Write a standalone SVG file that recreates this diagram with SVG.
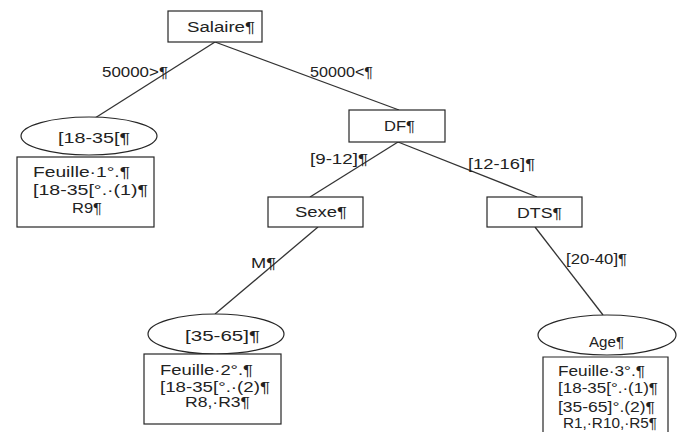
<svg xmlns="http://www.w3.org/2000/svg" width="686" height="441" viewBox="0 0 686 441">
<style>
.s{fill:#fff;stroke:#262626;stroke-width:1.2}
.c line{stroke:#333;stroke-width:1.3}
text{font-family:"Liberation Sans",Arial,sans-serif;font-size:14px;fill:#222}
</style>
<rect width="686" height="441" fill="#fff"/>
<g id="connectors" class="c">
<line x1="215" y1="42" x2="95" y2="118"/>
<line x1="215" y1="42" x2="399" y2="110"/>
<line x1="398" y1="142" x2="310" y2="197"/>
<line x1="398" y1="142" x2="537" y2="197"/>
<line x1="318" y1="227" x2="215" y2="314"/>
<line x1="535" y1="227" x2="603" y2="315"/>
</g>
<g id="edge-labels">
<text x="102" y="77" textLength="66" lengthAdjust="spacingAndGlyphs">50000&gt;¶</text>
<text x="310" y="77" textLength="63" lengthAdjust="spacingAndGlyphs">50000&lt;¶</text>
<text x="310" y="164" textLength="58" lengthAdjust="spacingAndGlyphs">[9-12]¶</text>
<text x="468" y="169" textLength="67" lengthAdjust="spacingAndGlyphs">[12-16]¶</text>
<text x="251" y="268" textLength="25" lengthAdjust="spacingAndGlyphs">M¶</text>
<text x="566" y="264" textLength="61" lengthAdjust="spacingAndGlyphs">[20-40]¶</text>
</g>
<g id="salaire">
<rect class="s" x="168" y="11" width="94" height="31"/>
<text x="187" y="32" textLength="68" lengthAdjust="spacingAndGlyphs">Salaire¶</text>
</g>
<g id="age1835">
<ellipse class="s" cx="89" cy="136" rx="68" ry="19"/>
<text x="58" y="143" textLength="72" lengthAdjust="spacingAndGlyphs">[18-35[¶</text>
</g>
<g id="feuille1">
<rect class="s" x="17" y="157" width="137" height="70"/>
<text x="33" y="177" textLength="97" lengthAdjust="spacingAndGlyphs">Feuille·1°.¶</text>
<text x="33" y="195" textLength="115" lengthAdjust="spacingAndGlyphs">[18-35[°.·(1)¶</text>
<text x="72" y="213" textLength="30" lengthAdjust="spacingAndGlyphs">R9¶</text>
</g>
<g id="df">
<rect class="s" x="349" y="110" width="96" height="32"/>
<text x="384" y="131" textLength="31" lengthAdjust="spacingAndGlyphs">DF¶</text>
</g>
<g id="sexe">
<rect class="s" x="268" y="197" width="95" height="30"/>
<text x="295" y="217" textLength="52" lengthAdjust="spacingAndGlyphs">Sexe¶</text>
</g>
<g id="dts">
<rect class="s" x="487" y="197" width="95" height="30"/>
<text x="517" y="218" textLength="45" lengthAdjust="spacingAndGlyphs">DTS¶</text>
</g>
<g id="age3565">
<ellipse class="s" cx="216" cy="334" rx="68" ry="20"/>
<text x="185" y="341" textLength="75" lengthAdjust="spacingAndGlyphs">[35-65]¶</text>
</g>
<g id="feuille2">
<rect class="s" x="144" y="354" width="137" height="70"/>
<text x="160" y="375" textLength="93" lengthAdjust="spacingAndGlyphs">Feuille·2°.¶</text>
<text x="160" y="392" textLength="110" lengthAdjust="spacingAndGlyphs">[18-35[°.·(2)¶</text>
<text x="185" y="407" textLength="65" lengthAdjust="spacingAndGlyphs">R8,·R3¶</text>
</g>
<g id="age">
<ellipse class="s" cx="607" cy="335" rx="69" ry="20"/>
<text x="589" y="347" textLength="35" lengthAdjust="spacingAndGlyphs">Age¶</text>
</g>
<g id="feuille3">
<path class="s" d="M543,432 V357 H668 V432"/>
<text x="558" y="376" textLength="87" lengthAdjust="spacingAndGlyphs">Feuille·3°.¶</text>
<text x="558" y="393" textLength="100" lengthAdjust="spacingAndGlyphs">[18-35[°.·(1)¶</text>
<text x="558" y="412" textLength="97" lengthAdjust="spacingAndGlyphs">[35-65]°.(2)¶</text>
<text x="563" y="428" textLength="94" lengthAdjust="spacingAndGlyphs">R1,·R10,·R5¶</text>
</g>
</svg>
